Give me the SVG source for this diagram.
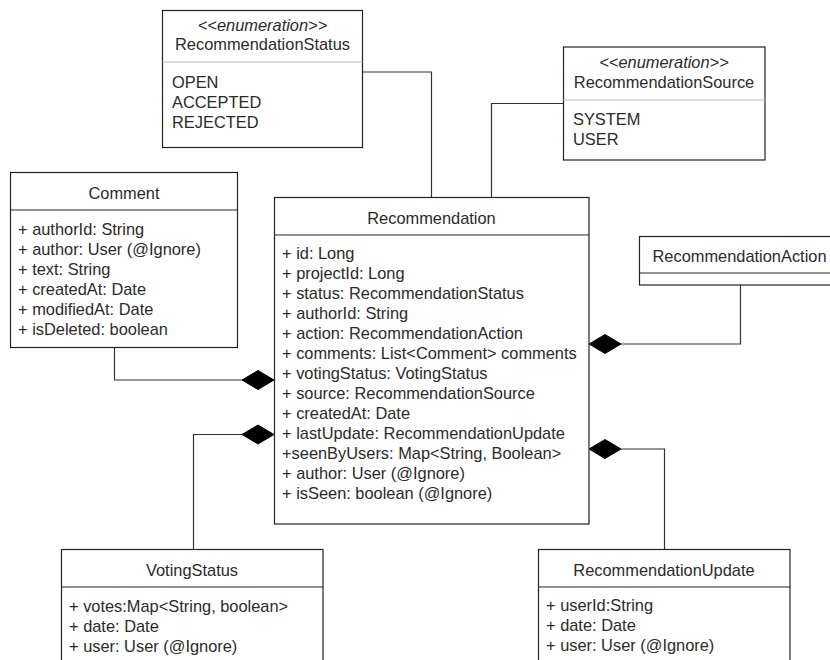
<svg xmlns="http://www.w3.org/2000/svg" width="830" height="660" viewBox="0 0 830 660">
  <style>
    .box { fill: #ffffff; stroke: #222222; stroke-width: 1.2; }
    .sep { stroke: #222222; stroke-width: 1.2; }
    .sep-light { stroke: #bbbbbb; stroke-width: 1.2; }
    .edge { fill: none; stroke: #333333; stroke-width: 1.2; }
    .diamond { fill: #000000; stroke: #000000; stroke-width: 1; }
    text { font-family: "Liberation Sans", Arial, sans-serif; font-size: 16.4px; fill: #2a2a2a; }
    .title { text-anchor: middle; }
    .stereo { text-anchor: middle; font-style: italic; }
  </style>

  <rect width="830" height="660" fill="#ffffff"/>

  <!-- connectors -->
  <g id="connectors">
    <!-- RecommendationStatus -> Recommendation -->
    <polyline class="edge" points="362.5,72 431.5,72 431.5,197.5"/>
    <!-- RecommendationSource -> Recommendation -->
    <polyline class="edge" points="563.5,103.5 491.5,103.5 491.5,197.5"/>
    <!-- Comment composed into Recommendation -->
    <polyline class="edge" points="114.5,347.5 114.5,380 242,380"/>
    <!-- VotingStatus composed into Recommendation -->
    <polyline class="edge" points="193.5,549 193.5,434.5 242,434.5"/>
    <!-- RecommendationAction composed into Recommendation -->
    <polyline class="edge" points="740.5,285 740.5,344 621,344"/>
    <!-- RecommendationUpdate composed into Recommendation -->
    <polyline class="edge" points="664.5,549 664.5,449 621,449"/>
    <!-- filled composition diamonds at the Recommendation side -->
    <path class="diamond" d="M242,380 L258,370.5 L274,380 L258,389.5 Z"/>
    <path class="diamond" d="M242,434.5 L258,425 L274,434.5 L258,444 Z"/>
    <path class="diamond" d="M589,344 L605,334.5 L621,344 L605,353.5 Z"/>
    <path class="diamond" d="M589,449 L605,439.5 L621,449 L605,458.5 Z"/>
  </g>

  <!-- enumeration RecommendationStatus -->
  <g id="node-recommendation-status">
    <rect class="box" x="162.5" y="10.5" width="200" height="137"/>
    <line class="sep-light" x1="162.5" y1="62" x2="362.5" y2="62"/>
    <text class="stereo" x="262.5" y="31">&lt;&lt;enumeration&gt;&gt;</text>
    <text class="title" x="262.5" y="50">RecommendationStatus</text>
    <text x="172" y="88">OPEN</text>
    <text x="172" y="108">ACCEPTED</text>
    <text x="172" y="128">REJECTED</text>
  </g>

  <!-- enumeration RecommendationSource -->
  <g id="node-recommendation-source">
    <rect class="box" x="563.5" y="47" width="201.5" height="113"/>
    <line class="sep-light" x1="563.5" y1="100" x2="765" y2="100"/>
    <text class="stereo" x="664" y="68">&lt;&lt;enumeration&gt;&gt;</text>
    <text class="title" x="664" y="88">RecommendationSource</text>
    <text x="573" y="125">SYSTEM</text>
    <text x="573" y="145">USER</text>
  </g>

  <!-- class Comment -->
  <g id="node-comment">
    <rect class="box" x="10.5" y="172.5" width="227" height="175"/>
    <line class="sep" x1="10.5" y1="210" x2="237.5" y2="210"/>
    <text class="title" x="124" y="199">Comment</text>
    <text x="18" y="234.5">+ authorId: String</text>
    <text x="18" y="254.5">+ author: User (@Ignore)</text>
    <text x="18" y="274.5">+ text: String</text>
    <text x="18" y="294.5">+ createdAt: Date</text>
    <text x="18" y="314.5">+ modifiedAt: Date</text>
    <text x="18" y="334.5">+ isDeleted: boolean</text>
  </g>

  <!-- class Recommendation -->
  <g id="node-recommendation">
    <rect class="box" x="274.5" y="197.5" width="314.5" height="326.5"/>
    <line class="sep" x1="274.5" y1="235" x2="589" y2="235"/>
    <text class="title" x="431.5" y="224">Recommendation</text>
    <text x="282" y="259">+ id: Long</text>
    <text x="282" y="279">+ projectId: Long</text>
    <text x="282" y="299">+ status: RecommendationStatus</text>
    <text x="282" y="319">+ authorId: String</text>
    <text x="282" y="339">+ action: RecommendationAction</text>
    <text x="282" y="359">+ comments: List&lt;Comment&gt; comments</text>
    <text x="282" y="379">+ votingStatus: VotingStatus</text>
    <text x="282" y="399">+ source: RecommendationSource</text>
    <text x="282" y="419">+ createdAt: Date</text>
    <text x="282" y="439">+ lastUpdate: RecommendationUpdate</text>
    <text x="282" y="459">+seenByUsers: Map&lt;String, Boolean&gt;</text>
    <text x="282" y="479">+ author: User (@Ignore)</text>
    <text x="282" y="499">+ isSeen: boolean (@Ignore)</text>
  </g>

  <!-- class RecommendationAction -->
  <g id="node-recommendation-action">
    <rect class="box" x="639.5" y="236.5" width="200" height="48.5"/>
    <line class="sep" x1="639.5" y1="273" x2="839.5" y2="273"/>
    <text class="title" x="739.5" y="262">RecommendationAction</text>
  </g>

  <!-- class VotingStatus -->
  <g id="node-voting-status">
    <rect class="box" x="61.5" y="549.5" width="261.5" height="130"/>
    <line class="sep" x1="61.5" y1="587" x2="323" y2="587"/>
    <text class="title" x="192" y="576">VotingStatus</text>
    <text x="69" y="612">+ votes:Map&lt;String, boolean&gt;</text>
    <text x="69" y="632">+ date: Date</text>
    <text x="69" y="652">+ user: User (@Ignore)</text>
  </g>

  <!-- class RecommendationUpdate -->
  <g id="node-recommendation-update">
    <rect class="box" x="538.5" y="549.5" width="251.5" height="130"/>
    <line class="sep" x1="538.5" y1="587" x2="790" y2="587"/>
    <text class="title" x="664" y="576">RecommendationUpdate</text>
    <text x="546" y="611">+ userId:String</text>
    <text x="546" y="631">+ date: Date</text>
    <text x="546" y="651">+ user: User (@Ignore)</text>
  </g>
</svg>
